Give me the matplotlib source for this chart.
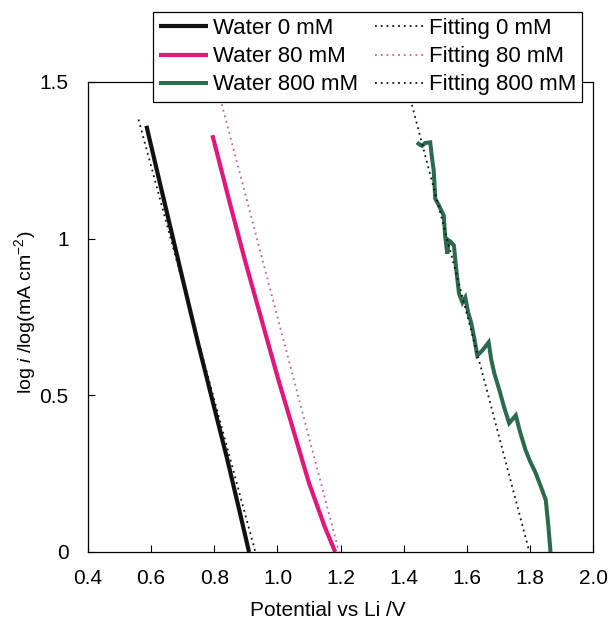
import numpy as np
import matplotlib
matplotlib.use("Agg")
import matplotlib.pyplot as plt

plt.rcParams['font.family'] = ['Liberation Sans', 'DejaVu Sans']
plt.rcParams['mathtext.fontset'] = 'custom'
plt.rcParams['mathtext.rm'] = 'Liberation Sans'
plt.rcParams['mathtext.it'] = 'Liberation Sans:italic'

# measured Tafel curves (potential vs Li / V, log i)
w0_x = [0.585, 0.62, 0.66, 0.70, 0.75, 0.80, 0.84, 0.88, 0.91]
w0_y = [1.36, 1.21, 1.04, 0.87, 0.66, 0.46, 0.30, 0.13, 0.0]

w80_x = [0.794, 0.85, 0.90, 0.95, 1.00, 1.05, 1.10, 1.15, 1.183]
w80_y = [1.33, 1.11, 0.92, 0.74, 0.56, 0.39, 0.22, 0.08, 0.0]

w800_x = [1.442, 1.450, 1.458, 1.468, 1.484, 1.489, 1.495, 1.500, 1.512, 1.527,
          1.531, 1.538, 1.543, 1.549, 1.559, 1.566, 1.575, 1.586, 1.595, 1.604,
          1.614, 1.623, 1.633, 1.649, 1.669, 1.677, 1.687, 1.702, 1.718, 1.734,
          1.755, 1.768, 1.786, 1.800, 1.818, 1.832, 1.850, 1.858, 1.865]
w800_y = [1.307, 1.300, 1.296, 1.305, 1.307, 1.262, 1.217, 1.127, 1.105, 1.073,
          1.010, 0.952, 0.994, 0.990, 0.978, 0.905, 0.825, 0.796, 0.812, 0.765,
          0.730, 0.685, 0.627, 0.643, 0.669, 0.615, 0.570, 0.520, 0.462, 0.411,
          0.436, 0.385, 0.325, 0.290, 0.252, 0.215, 0.166, 0.085, 0.0]

# linear fits (end points)
fit0_x = [0.560, 0.93]
fit0_y = [1.38, 0.0]
fit80_x = [0.805, 1.195]
fit80_y = [1.50, 0.0]
fit800_x = [1.412, 1.798]
fit800_y = [1.48, 0.0]

xticks = [0.4, 0.6, 0.8, 1.0, 1.2, 1.4, 1.6, 1.8, 2.0]
yticks = [0, 0.5, 1, 1.5]
ytick_labels = ["0", "0.5", "1", "1.5"]

black = "#111111"
pink = "#e3177b"
green = "#2b6a4c"
pink_fit = "#c9609a"

fig = plt.figure(figsize=(6.13, 6.31), dpi=100)
ax = fig.add_axes([0.1436, 0.1252, 0.824, 0.745])

l1, = ax.plot(w0_x, w0_y, color=black, lw=3.0, solid_capstyle='butt', label="Water 0 mM")
l2, = ax.plot(w80_x, w80_y, color=pink, lw=3.0, solid_capstyle='butt', label="Water 80 mM")
l3, = ax.plot(w800_x, w800_y, color=green, lw=2.9, solid_capstyle='butt',
              solid_joinstyle='miter', label="Water 800 mM")
f1, = ax.plot(fit0_x, fit0_y, color=black, lw=1.3, ls=(0, (1, 2.2)), label="Fitting 0 mM")
f2, = ax.plot(fit80_x, fit80_y, color=pink_fit, lw=1.3, ls=(0, (1, 2.2)), label="Fitting 80 mM")
f3, = ax.plot(fit800_x, fit800_y, color=black, lw=1.3, ls=(0, (1, 2.2)), label="Fitting 800 mM")

ax.set_xlim(0.4, 2.0)
ax.set_ylim(0, 1.5)
ax.set_xticks(xticks)
ax.set_xticklabels([f"{t:.1f}" for t in xticks])
ax.set_yticks(yticks)
ax.set_yticklabels(ytick_labels)
ax.tick_params(direction='in', length=5, width=0.8, labelsize=15, pad=12)
ax.tick_params(axis='y', pad=14)
for s in ax.spines.values():
    s.set_linewidth(0.9)

ax.set_xlabel("Potential vs Li /V", fontsize=15, labelpad=6)
ax.xaxis.set_label_coords(0.475, -0.105)
ax.set_ylabel(r"log $\mathit{i}$ /log(mA cm$^{\mathrm{-2}}$)", fontsize=14)
ax.yaxis.set_label_coords(-0.1, 0.51)

leg = fig.legend(handles=[l1, l2, l3, f1, f2, f3], ncol=2,
                 loc='upper left', bbox_to_anchor=(153 / 613, 1 - 12 / 631),
                 fontsize=16, frameon=True, fancybox=False, framealpha=1,
                 edgecolor='black', handlelength=2.2, handletextpad=0.2,
                 columnspacing=0.8, labelspacing=0.32, borderpad=0.28,
                 borderaxespad=0)
leg.get_frame().set_linewidth(0.9)

fig.savefig("out.png", dpi=100)
